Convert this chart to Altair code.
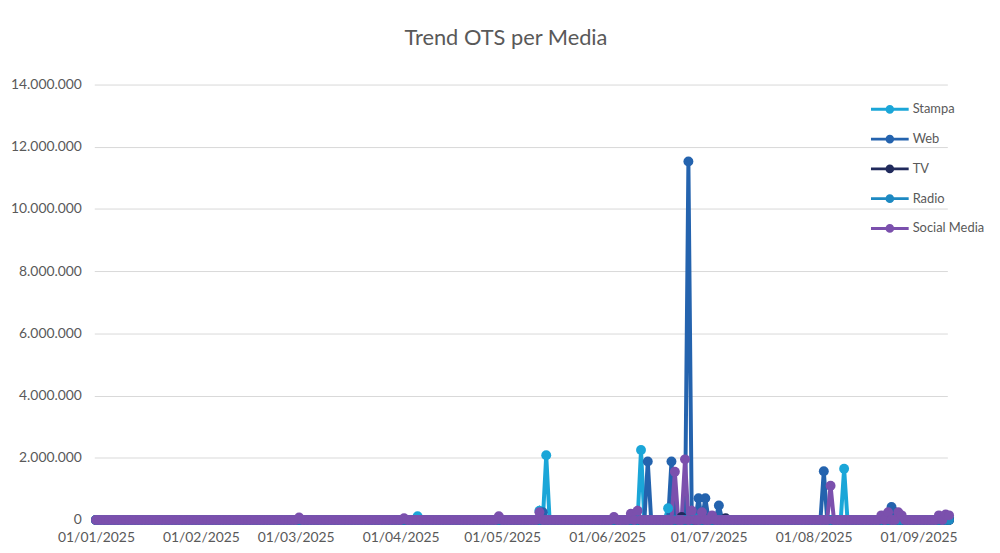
import altair as alt
import pandas as pd

series_order = ["Stampa", "Web", "TV", "Radio", "Social Media"]
series_colors = ["#1ba6d8", "#2463ae", "#202a5c", "#1d89c2", "#7b50ad"]

first_day = "2025-01-01"
last_day = "2025-09-10"

# Visible (non-zero) OTS values per series; every other day sits on the 0 baseline
stampa_dates = ["2025-04-06", "2025-05-12", "2025-05-14", "2025-06-11", "2025-06-19",
                "2025-08-10", "2025-09-10"]
stampa_values = [120000, 300000, 2080000, 2250000, 380000, 1650000, 80000]

web_dates = ["2025-05-13", "2025-06-13", "2025-06-20", "2025-06-25", "2025-06-28",
             "2025-06-30", "2025-07-04", "2025-08-04", "2025-08-24", "2025-08-25"]
web_values = [250000, 1880000, 1880000, 11530000, 700000, 700000, 470000, 1570000,
              420000, 250000]

tv_dates = ["2025-06-23", "2025-07-06"]
tv_values = [100000, 60000]

radio_dates = ["2025-06-27"]
radio_values = [60000]

social_dates = ["2025-03-02", "2025-04-02", "2025-04-30", "2025-05-12", "2025-06-03",
                "2025-06-08", "2025-06-10", "2025-06-21", "2025-06-24", "2025-06-26",
                "2025-06-29", "2025-07-02", "2025-08-06", "2025-08-21", "2025-08-23",
                "2025-08-26", "2025-08-27", "2025-09-07", "2025-09-09", "2025-09-10"]
social_values = [80000, 60000, 120000, 250000, 100000, 200000, 300000, 1550000, 1950000,
                 300000, 250000, 150000, 1100000, 150000, 250000, 250000, 150000,
                 150000, 180000, 150000]

month_ticks = ["2025-01-01", "2025-02-01", "2025-03-01", "2025-04-01", "2025-05-01",
               "2025-06-01", "2025-07-01", "2025-08-01", "2025-09-01"]

days = pd.date_range(first_day, last_day, freq="D")
spikes = {
    "Stampa": dict(zip(stampa_dates, stampa_values)),
    "Web": dict(zip(web_dates, web_values)),
    "TV": dict(zip(tv_dates, tv_values)),
    "Radio": dict(zip(radio_dates, radio_values)),
    "Social Media": dict(zip(social_dates, social_values)),
}
rows = []
for s in series_order:
    for d in days:
        key = d.strftime("%Y-%m-%d")
        rows.append({"Data": key + "T00:00:00", "Media": s, "OTS": spikes[s].get(key, 0)})
df = pd.DataFrame(rows)

tick_values = [alt.DateTime(year=int(t[:4]), month=int(t[5:7]), date=int(t[8:10])) for t in month_ticks]

legend_path = "M-2,0L2,0M0.3,0A0.3,0.3,0,1,1,-0.3,0A0.3,0.3,0,1,1,0.3,0Z"

scale_c = alt.Scale(domain=series_order, range=series_colors)
color = alt.Color(
    "Media:N",
    sort=series_order,
    scale=scale_c,
    legend=alt.Legend(
        title=None, orient="none", legendX=791, legendY=14, direction="vertical",
        symbolType=legend_path, symbolSize=361, symbolStrokeWidth=3,
        labelOffset=12, rowPadding=10, labelFontSize=13, labelColor="#595959",
        labelFont="Lato", padding=0,
    ),
)

x = alt.X(
    "Data:T",
    scale=alt.Scale(domain=[alt.DateTime(year=2024, month=12, date=31, hours=12),
                            alt.DateTime(year=2025, month=9, date=9, hours=12)]),
    axis=alt.Axis(title=None, values=tick_values, format="%d/%m/%Y", grid=False,
                  ticks=False, domain=False, labelPadding=11, labelFontSize=14,
                  labelColor="#595959", labelFont="Lato", labelOverlap=False,
                  labelFlush=False),
)
y = alt.Y(
    "OTS:Q",
    scale=alt.Scale(domain=[0, 14000000], nice=False),
    axis=alt.Axis(title=None, values=[0, 2000000, 4000000, 6000000, 8000000, 10000000,
                                      12000000, 14000000],
                  labelExpr="replace(format(datum.value, ',d'), regexp(',', 'g'), '.')",
                  ticks=False, domain=False, gridColor="#d9d9d9", gridWidth=1,
                  labelPadding=13, labelFontSize=14, labelColor="#595959",
                  labelFont="Lato"),
)

base = alt.Chart(df)
lines = base.mark_line(strokeWidth=4).encode(x=x, y=y, color=color, detail="Media:N")
points = base.mark_circle(size=100, opacity=1).encode(
    x=x, y=y, color=alt.Color("Media:N", sort=series_order, scale=scale_c, legend=None))

chart = (
    alt.layer(lines, points)
    .properties(
        width=860, height=439,
        padding={"left": 87, "top": 75, "right": 45, "bottom": 23},
        autosize=alt.AutoSizeParams(type="none"),
        background="white",
        title=alt.Title("Trend OTS per Media", fontSize=22, font="Lato", fontWeight="normal",
                        color="#595959", anchor="middle", offset=28, dx=-15),
    )
    .configure_view(stroke=None)
)

chart.save("out.html", embed_options={"renderer": "svg", "actions": False})
